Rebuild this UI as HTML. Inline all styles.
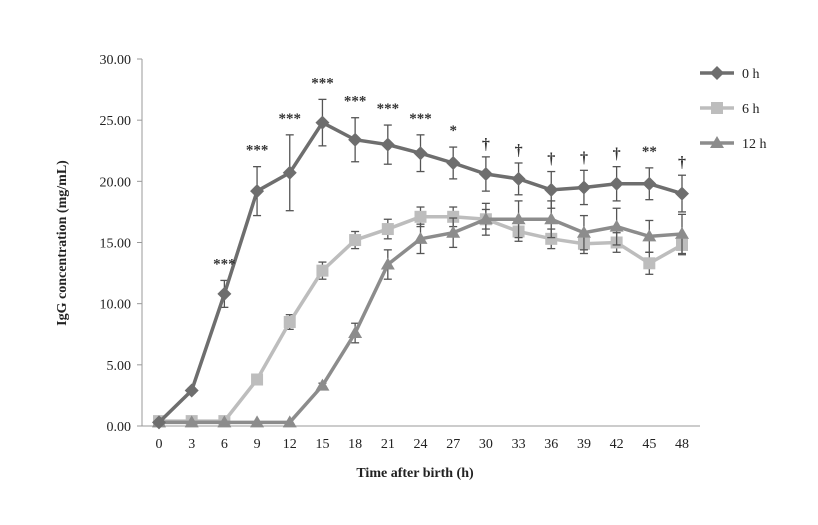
<!DOCTYPE html>
<html><head><meta charset="utf-8"><style>
body{margin:0;background:#fff;}
svg text{font-family:"Liberation Serif",serif;}
</style></head><body>
<svg width="818" height="520" viewBox="0 0 818 520" xmlns="http://www.w3.org/2000/svg">
<g id="axes"></g>
<g id="plot"></g>
<g id="legend"></g>
<text x="415" y="477" text-anchor="middle" font-size="14" font-weight="bold" fill="#222">Time after birth (h)</text>
<text transform="translate(66,243) rotate(-90)" text-anchor="middle" font-size="14" font-weight="bold" fill="#222">IgG concentration (mg/mL)</text>
</svg>
<script>
const times=[0,3,6,9,12,15,18,21,24,27,30,33,36,39,42,45,48];
const yTicks=[0,5,10,15,20,25,30];
const s0=[0.3,2.9,10.8,19.2,20.7,24.8,23.4,23.0,22.3,21.5,20.6,20.2,19.3,19.5,19.8,19.8,19.0];
const e0=[0.1,0.2,1.1,2.0,3.1,1.9,1.8,1.6,1.5,1.3,1.4,1.3,1.5,1.4,1.4,1.3,1.5];
const s6=[0.4,0.4,0.4,3.8,8.5,12.7,15.2,16.1,17.1,17.1,16.9,15.9,15.3,14.9,15.0,13.3,14.8];
const e6=[0.1,0.1,0.1,0.2,0.6,0.7,0.7,0.8,0.8,0.8,0.8,0.8,0.8,0.8,0.8,0.9,0.8];
const s12=[0.3,0.3,0.3,0.3,0.3,3.3,7.6,13.2,15.3,15.8,16.9,16.9,16.9,15.8,16.3,15.5,15.7];
const e12=[0,0,0,0,0,0.2,0.8,1.2,1.2,1.2,1.3,1.5,1.5,1.4,1.5,1.3,1.6];
const sig=["","","***","***","***","***","***","***","***","*","†","†","†","†","†","**","†"];
const seriesNames=["0 h","6 h","12 h"];
const NS="http://www.w3.org/2000/svg";
const X=t=>159+(t/48)*523;
const Y=v=>426-(v/30)*367;
function mk(tag,attrs,parent){const e=document.createElementNS(NS,tag);for(const k in attrs)e.setAttribute(k,attrs[k]);parent.appendChild(e);return e;}
const axes=document.getElementById('axes'),plot=document.getElementById('plot'),legend=document.getElementById('legend');
let l=mk('line',{x1:142,y1:Y(30),x2:142,y2:Y(0),stroke:'#999'},axes);

l=mk('line',{x1:142,y1:Y(0),x2:700,y2:Y(0),stroke:'#999'},axes);

yTicks.forEach(v=>{
 mk('line',{x1:137,y1:Y(v),x2:142,y2:Y(v),stroke:'#999'},axes);
 const t=mk('text',{x:131,y:Y(v)+5,'text-anchor':'end','font-size':14,fill:'#222'},axes);t.textContent=v.toFixed(2);
 
});
times.forEach(v=>{
 const t=mk('text',{x:X(v),y:Y(0)+22,'text-anchor':'middle','font-size':14,fill:'#222'},axes);t.textContent=v;
 
});
function series(vals,errs,color,marker,name){
 const g=mk('g',{},plot);
 
 vals.forEach((v,i)=>{const x=X(times[i]);const a=Y(v+errs[i]),b=Y(v-errs[i]);
  if(errs[i]>0){mk('line',{x1:x,y1:a,x2:x,y2:b,stroke:'#555','stroke-width':1.3},g);
  mk('line',{x1:x-4,y1:a,x2:x+4,y2:a,stroke:'#555','stroke-width':1.3},g);
  mk('line',{x1:x-4,y1:b,x2:x+4,y2:b,stroke:'#555','stroke-width':1.3},g);}});
 const p=mk('polyline',{points:vals.map((v,i)=>X(times[i])+','+Y(v)).join(' '),fill:'none',stroke:color,'stroke-width':3.5},g);
 
 vals.forEach((v,i)=>{const m=drawMarker(marker,X(times[i]),Y(v),color,g);
  });
}
function drawMarker(type,x,y,c,g){
 if(type==='d')return mk('polygon',{points:`${x},${y-7} ${x+7},${y} ${x},${y+7} ${x-7},${y}`,fill:c},g);
 if(type==='s')return mk('rect',{x:x-6,y:y-6,width:12,height:12,fill:c},g);
 return mk('polygon',{points:`${x},${y-7} ${x+7},${y+5} ${x-7},${y+5}`,fill:c},g);
}
series(s6,e6,'#bdbdbd','s','6h');
series(s12,e12,'#8c8c8c','t','12h');
series(s0,e0,'#6e6e6e','d','0h');
sig.forEach((s,i)=>{if(!s)return;const t=mk('text',{x:X(times[i]),y:Y(s0[i]+e0[i])-(s==='†'?8:12),'text-anchor':'middle','font-size':s==='†'?16:15,'font-weight':'bold',fill:'#333'},plot);
 t.textContent=s;});
const cols=['#6e6e6e','#bdbdbd','#8c8c8c'],mks=['d','s','t'];
seriesNames.forEach((n,i)=>{const y=73+i*35;const g=mk('g',{},legend);
 
 mk('line',{x1:700,y1:y,x2:734,y2:y,stroke:cols[i],'stroke-width':3.5},g);
 drawMarker(mks[i],717,y,cols[i],g);
 const t=mk('text',{x:742,y:y+5,'font-size':14,fill:'#222'},g);t.textContent=n;});
</script>
</body></html>
